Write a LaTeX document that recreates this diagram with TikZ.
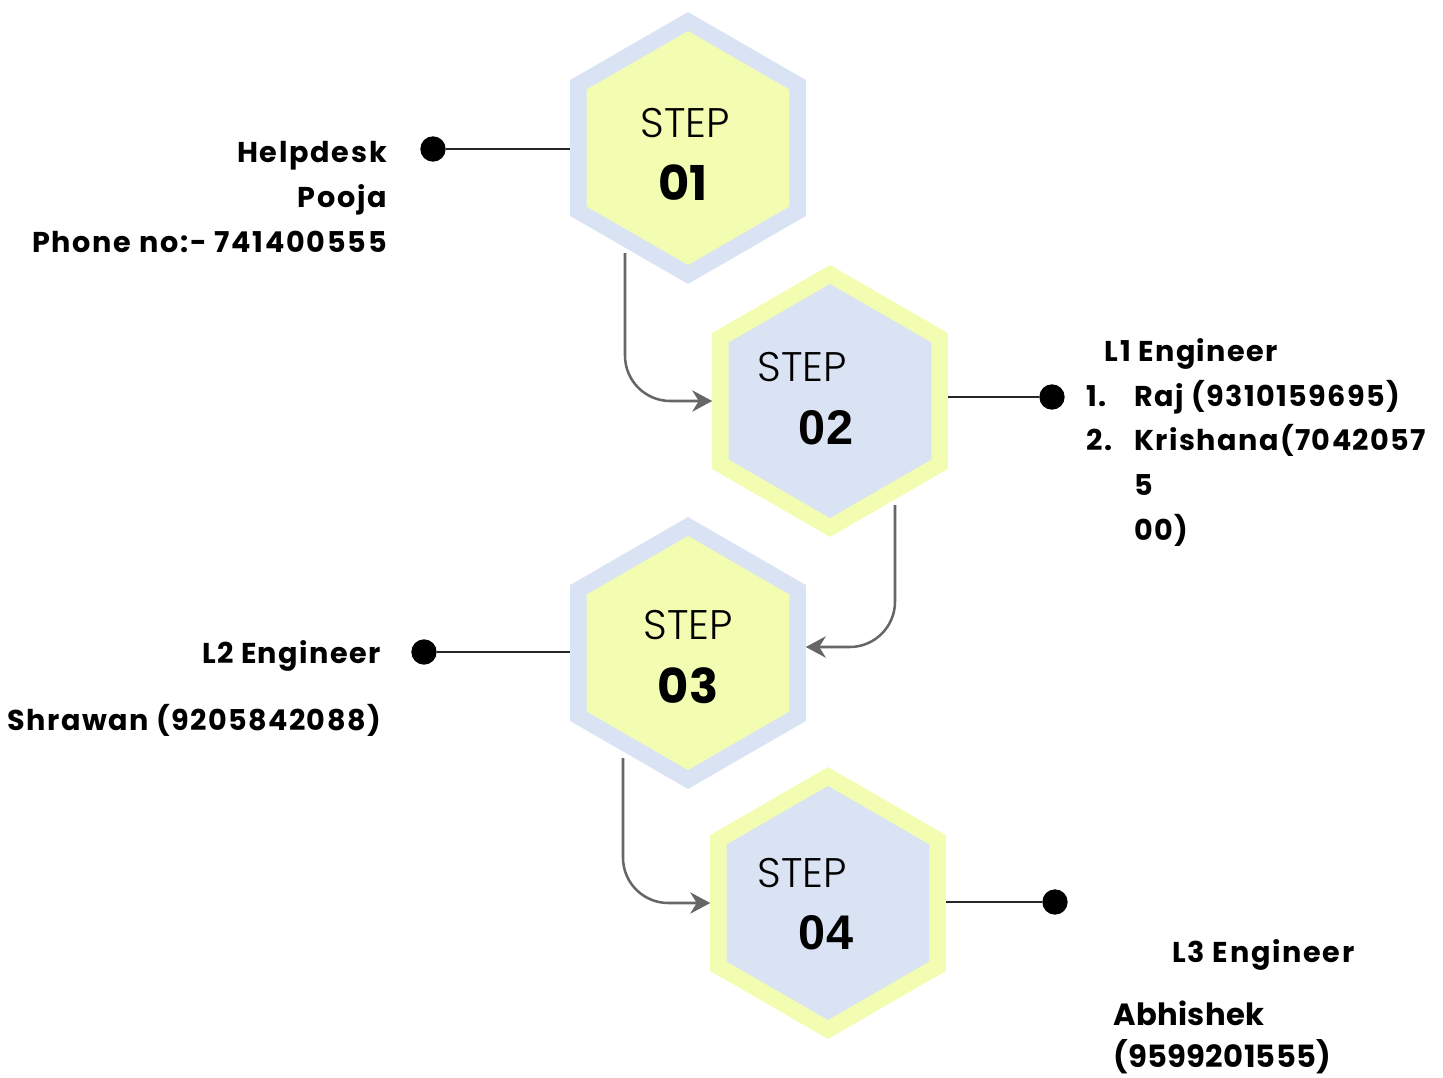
\documentclass[tikz,border=0pt]{standalone}
\usepackage{fontspec}
\setmainfont{Poppins}[LetterSpace=6]
\IfFontExistsTF{Poppins Light}{\newfontfamily\stepfont{Poppins Light}}{\newfontfamily\stepfont{Poppins}}
\newfontfamily\numfont{Liberation Sans}
\usetikzlibrary{shapes.geometric,arrows.meta,calc}
\definecolor{hexblue}{HTML}{DAE3F3}
\definecolor{hexyellow}{HTML}{F3FDB2}
\definecolor{arrgray}{HTML}{666666}
\begin{document}
\begin{tikzpicture}[x=0.75pt,y=-0.75pt,
 hexout/.style={regular polygon, regular polygon sides=6, shape border rotate=30, minimum size=204pt, inner sep=0pt, outer sep=0pt, fill=#1},
 hexin/.style={regular polygon, regular polygon sides=6, shape border rotate=30, minimum size=175.5pt, inner sep=0pt, outer sep=0pt, fill=#1},
 steplbl/.style={font=\stepfont\fontsize{31}{31}\selectfont, inner sep=0pt},
 stepnum/.style={font=\fontsize{36}{36}\selectfont\bfseries\addfontfeatures{LetterSpace=0}, inner sep=0pt},
 stepnumb/.style={font=\numfont\fontsize{36.5}{36.5}\selectfont\bfseries, inner sep=0pt},
 dot/.style={circle, fill=black, minimum size=19pt, inner sep=0pt},
 leader/.style={line width=1.1pt, black!85},
 flow/.style={line width=1.9pt, arrgray, rounded corners=34pt, -{Stealth[length=15pt,width=16pt]}},
 info/.style={font=\fontsize{21.5}{33.75}\selectfont\bfseries, inner sep=0pt},
]
\useasboundingbox (0,0) rectangle (1443,1078);

% hexagons
\node[hexout=hexblue] (s1) at (688,148) {};
\node[hexin=hexyellow] (s1i) at (688,148) {};
\node[hexout=hexyellow] (s2) at (830,401) {};
\node[hexin=hexblue] (s2i) at (830,401) {};
\node[hexout=hexblue] (s3) at (688,653) {};
\node[hexin=hexyellow] (s3i) at (688,653) {};
\node[hexout=hexyellow] (s4) at (828,903) {};
\node[hexin=hexblue] (s4i) at (828,903) {};

% step labels
\node[steplbl] (l1) at (685,123) {STEP};
\node[stepnum] (n1) at (683,183) {01};
\node[steplbl] (l2) at (802,367) {STEP};
\node[stepnumb] (n2) at (826,428) {02};
\node[steplbl] (l3) at (688,625) {STEP};
\node[stepnum] (n3) at (688,686) {03};
\node[steplbl] (l4) at (802,873) {STEP};
\node[stepnumb] (n4) at (826,933) {04};

% flow arrows
\coordinate (a1) at (625,253);
\coordinate (a2) at (895,505);
\coordinate (a3) at (623,758);
\draw[flow] (a1) |- (s2.west);
\draw[flow] (a2) |- ([yshift=4.5pt]s3.east);
\draw[flow] (a3) |- (s4.west);

% dots and leaders
\node[dot] (d1) at (433,149) {};
\node[dot] (d2) at (1052,397) {};
\node[dot] (d3) at (424,652) {};
\node[dot] (d4) at (1055,902) {};
\draw[leader] (d1) -- (d1 -| s1.west);
\draw[leader] (s2.east |- d2) -- (d2);
\draw[leader] (d3) -- (d3 -| s3.west);
\draw[leader] (s4.east |- d4) -- (d4);

% info texts (base anchor = baseline of last line)
\node[info, align=right, anchor=base east] (t1) at (387,252)
  {Helpdesk\\Pooja\\Phone no:- 741400555};
\node[info, align=left, anchor=base west, font=\fontsize{21.5}{33.4}\selectfont\bfseries\addfontfeatures{LetterSpace=5}] (t2) at (1086,540)
  {\hspace*{14pt}L1 Engineer\\
   \makebox[36pt][l]{1.}Raj (9310159695)\\
   \makebox[36pt][l]{2.}Krishana(7042057\\
   \hspace*{36pt}5\\
   \hspace*{36pt}00)};
\node[info, align=right, anchor=base east, font=\fontsize{21.5}{33.75}\selectfont\bfseries\addfontfeatures{LetterSpace=5}] (t3) at (381,730)
  {L2 Engineer\\[16.5pt]Shrawan (9205842088)};
\node[info, anchor=base west] (t4) at (1172,962) {L3 Engineer};
\node[info, align=left, anchor=base west, font=\fontsize{23}{31.3}\selectfont\bfseries\addfontfeatures{LetterSpace=1}] (t5) at (1113,1067)
  {Abhishek\\(9599201555)};
\end{tikzpicture}
\end{document}
